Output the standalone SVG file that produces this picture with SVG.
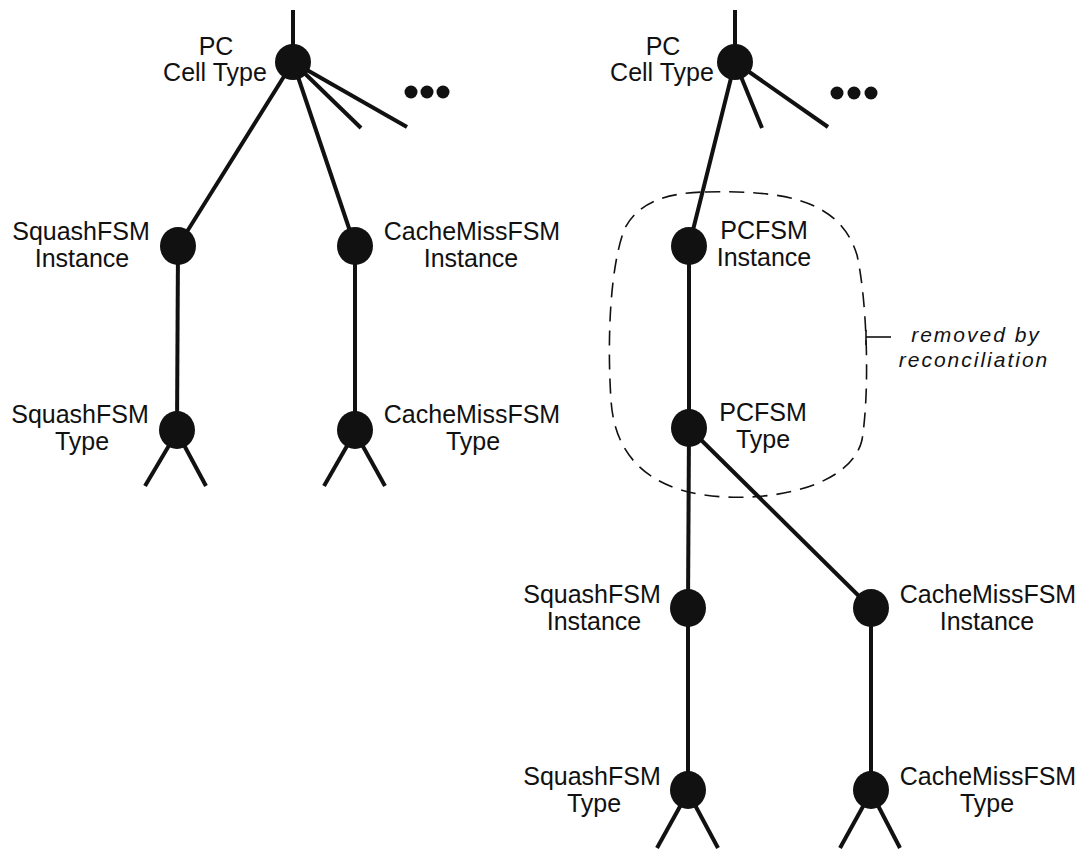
<svg xmlns="http://www.w3.org/2000/svg" width="1082" height="852" viewBox="0 0 1082 852">
  <style>
    .edge { stroke: #111; stroke-width: 4; stroke-linecap: butt; fill: none; }
    .node { fill: #111; }
    .dot { fill: #111; }
    .lbl { font-family: "Liberation Sans", Arial, sans-serif; font-size: 25px; fill: #111; text-anchor: middle; }
    .note { font-family: "Liberation Sans", Arial, sans-serif; font-size: 21px; font-style: italic; fill: #111; text-anchor: middle; letter-spacing: 2px; }
    .region { fill: none; stroke: #111; stroke-width: 1.6; stroke-dasharray: 15 9; }
    .tick { stroke: #111; stroke-width: 1.6; fill: none; }
  </style>

  <!-- connectors -->
  <g id="connectors">
    <!-- left tree -->
    <line class="edge" x1="293" y1="10" x2="293" y2="50"/>
    <line class="edge" x1="293" y1="62" x2="178" y2="246"/>
    <line class="edge" x1="293" y1="62" x2="355" y2="246"/>
    <line class="edge" x1="293" y1="62" x2="361" y2="128"/>
    <line class="edge" x1="293" y1="62" x2="407" y2="127"/>
    <line class="edge" x1="178" y1="246" x2="177" y2="430"/>
    <line class="edge" x1="355" y1="246" x2="355" y2="430"/>
    <line class="edge" x1="177" y1="432" x2="145" y2="486"/>
    <line class="edge" x1="177" y1="432" x2="206" y2="486"/>
    <line class="edge" x1="355" y1="432" x2="324" y2="486"/>
    <line class="edge" x1="355" y1="432" x2="385" y2="486"/>

    <!-- right tree -->
    <line class="edge" x1="735" y1="10" x2="735" y2="50"/>
    <line class="edge" x1="735" y1="62" x2="689" y2="246"/>
    <line class="edge" x1="735" y1="62" x2="762" y2="128"/>
    <line class="edge" x1="735" y1="62" x2="828" y2="127"/>
    <line class="edge" x1="689" y1="246" x2="689" y2="428"/>
    <line class="edge" x1="689" y1="428" x2="688" y2="608"/>
    <line class="edge" x1="689" y1="428" x2="871" y2="608"/>
    <line class="edge" x1="688" y1="608" x2="688" y2="790"/>
    <line class="edge" x1="871" y1="608" x2="871" y2="790"/>
    <line class="edge" x1="688" y1="792" x2="657" y2="848"/>
    <line class="edge" x1="688" y1="792" x2="718" y2="848"/>
    <line class="edge" x1="871" y1="792" x2="840" y2="848"/>
    <line class="edge" x1="871" y1="792" x2="900" y2="848"/>
  </g>

  <!-- continuation dots -->
  <g id="more-left">
    <circle class="dot" cx="411" cy="92" r="6.5"/>
    <circle class="dot" cx="427" cy="92" r="6.5"/>
    <circle class="dot" cx="443" cy="92" r="6.5"/>
  </g>
  <g id="more-right">
    <circle class="dot" cx="837" cy="93" r="6.5"/>
    <circle class="dot" cx="854" cy="93" r="6.5"/>
    <circle class="dot" cx="871" cy="93" r="6.5"/>
  </g>

  <!-- left tree nodes -->
  <g id="l-pc">
    <circle class="node" cx="293" cy="62" r="18"/>
    <text class="lbl" x="216" y="55">PC</text>
    <text class="lbl" x="215" y="81">Cell Type</text>
  </g>
  <g id="l-squash-inst">
    <ellipse class="node" cx="178" cy="246" rx="18" ry="19"/>
    <text class="lbl" x="81" y="240">SquashFSM</text>
    <text class="lbl" x="82" y="267">Instance</text>
  </g>
  <g id="l-cache-inst">
    <ellipse class="node" cx="355" cy="246" rx="18" ry="19"/>
    <text class="lbl" x="472" y="240">CacheMissFSM</text>
    <text class="lbl" x="471" y="267">Instance</text>
  </g>
  <g id="l-squash-type">
    <ellipse class="node" cx="177" cy="430" rx="18" ry="19"/>
    <text class="lbl" x="80" y="423">SquashFSM</text>
    <text class="lbl" x="82" y="450">Type</text>
  </g>
  <g id="l-cache-type">
    <ellipse class="node" cx="355" cy="430" rx="18" ry="19"/>
    <text class="lbl" x="472" y="423">CacheMissFSM</text>
    <text class="lbl" x="473" y="450">Type</text>
  </g>

  <!-- right tree nodes -->
  <g id="r-pc">
    <circle class="node" cx="735" cy="62" r="18"/>
    <text class="lbl" x="663" y="55">PC</text>
    <text class="lbl" x="662" y="81">Cell Type</text>
  </g>
  <g id="r-pcfsm-inst">
    <ellipse class="node" cx="689" cy="246" rx="18" ry="19"/>
    <text class="lbl" x="764" y="239">PCFSM</text>
    <text class="lbl" x="764" y="266">Instance</text>
  </g>
  <g id="r-pcfsm-type">
    <ellipse class="node" cx="689" cy="428" rx="18" ry="19"/>
    <text class="lbl" x="763" y="421">PCFSM</text>
    <text class="lbl" x="763" y="448">Type</text>
  </g>
  <g id="r-squash-inst">
    <ellipse class="node" cx="688" cy="608" rx="18" ry="19"/>
    <text class="lbl" x="592" y="603">SquashFSM</text>
    <text class="lbl" x="594" y="630">Instance</text>
  </g>
  <g id="r-cache-inst">
    <ellipse class="node" cx="871" cy="608" rx="18" ry="19"/>
    <text class="lbl" x="988" y="603">CacheMissFSM</text>
    <text class="lbl" x="987" y="630">Instance</text>
  </g>
  <g id="r-squash-type">
    <ellipse class="node" cx="688" cy="790" rx="18" ry="19"/>
    <text class="lbl" x="592" y="785">SquashFSM</text>
    <text class="lbl" x="594" y="812">Type</text>
  </g>
  <g id="r-cache-type">
    <ellipse class="node" cx="871" cy="790" rx="18" ry="19"/>
    <text class="lbl" x="988" y="785">CacheMissFSM</text>
    <text class="lbl" x="987" y="812">Type</text>
  </g>

  <!-- region removed by reconciliation -->
  <g id="reconciled-region">
    <path class="region" d="M 705 192 C 785 190, 840 200, 857 255 C 867 300, 870 390, 862 440 C 852 482, 785 500, 725 497 C 660 494, 615 465, 611 400 C 607 340, 610 265, 625 228 C 640 200, 670 193, 705 192 Z"/>
    <line class="tick" x1="866" y1="330" x2="866" y2="345"/>
    <line class="tick" x1="866" y1="337" x2="891" y2="337"/>
    <text class="note" x="976" y="342">removed by</text>
    <text class="note" x="974" y="367">reconciliation</text>
  </g>
</svg>
